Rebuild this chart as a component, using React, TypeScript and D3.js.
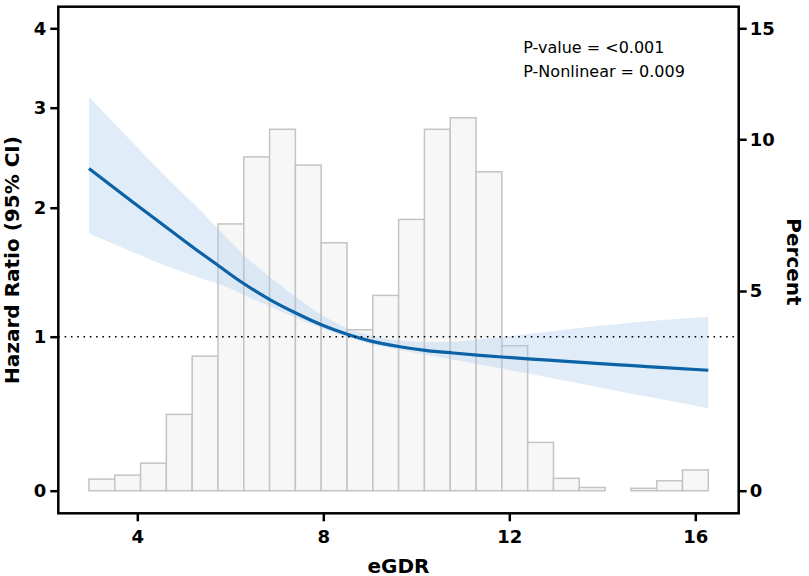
import React, { useEffect, useRef } from "react";
import * as d3 from "d3";

// spline curve (eGDR -> hazard ratio with 95% CI)
const egdr = [2.96, 3.9, 4.63, 5.35, 5.74, 6.27, 6.85, 7.43, 7.97, 8.53, 9.07, 9.65, 10.23, 10.79, 11.37, 11.84, 12.4, 13.23, 13.95, 14.66, 15.24, 16.28];
const hr = [2.392, 2.057, 1.847, 1.653, 1.552, 1.416, 1.288, 1.18, 1.091, 1.017, 0.968, 0.935, 0.91, 0.894, 0.879, 0.868, 0.856, 0.84, 0.825, 0.812, 0.801, 0.782];
const hrUpper = [3.139, 2.652, 2.302, 1.982, 1.835, 1.641, 1.463, 1.304, 1.168, 1.064, 1.005, 0.975, 0.966, 0.968, 0.982, 0.998, 1.021, 1.056, 1.084, 1.11, 1.128, 1.155];
const hrLower = [1.8, 1.657, 1.548, 1.455, 1.412, 1.327, 1.234, 1.143, 1.065, 0.995, 0.949, 0.914, 0.881, 0.852, 0.819, 0.793, 0.761, 0.712, 0.67, 0.628, 0.595, 0.535];

// histogram of eGDR distribution (percent per bin)
const binMin = 2.96;
const binMax = 16.28;
const percent = [0.29, 0.39, 0.69, 1.91, 3.37, 7.21, 9.42, 10.45, 9.15, 6.59, 4.03, 4.89, 7.36, 10.45, 10.97, 8.93, 3.63, 1.21, 0.31, 0.08, 0, 0.06, 0.25, 0.52];

const egdrTicks = [4, 8, 12, 16];
const hrTicks = [0, 1, 2, 3, 4];
const percentTicks = [0, 5, 10, 15];

const annotations = ["P-value = <0.001", "P-Nonlinear = 0.009"];

const width = 809;
const height = 576;
const frame = { left: 58.3, right: 738.7, top: 6.7, bottom: 513.3 };
const font = "DejaVu Sans, Verdana, sans-serif";

function App() {
  const svgRef = useRef<SVGSVGElement>(null);

  useEffect(() => {
    if (!svgRef.current) return;
    const svg = d3.select(svgRef.current);
    svg.selectAll("*").remove();

    const x = d3.scaleLinear().domain([4, 16]).range([137.3, 695.3]);
    // both y axes in the figure are unevenly spaced, so map them tick by tick
    const yHR = d3.scaleLinear().domain(hrTicks).range([490.7, 336.7, 207.7, 107.7, 28.3]);
    const yPct = d3.scaleLinear().domain(percentTicks).range([490.7, 291, 139.3, 28.3]);

    // histogram bars
    const binW = (binMax - binMin) / percent.length;
    const bins = percent.map((p, i) => ({ x0: binMin + i * binW, x1: binMin + (i + 1) * binW, p }));
    svg
      .append("g")
      .selectAll("rect")
      .data(bins.filter((b) => b.p > 0))
      .enter()
      .append("rect")
      .attr("x", (d) => x(d.x0))
      .attr("y", (d) => yPct(d.p))
      .attr("width", (d) => x(d.x1) - x(d.x0))
      .attr("height", (d) => yPct(0) - yPct(d.p))
      .attr("fill", "#f8f7f8")
      .attr("stroke", "#c4c4c4")
      .attr("stroke-width", 1.5);

    const pts = egdr.map((e, i) => ({ e, hr: hr[i], lo: hrLower[i], hi: hrUpper[i] }));

    // CI band
    const area = d3
      .area<(typeof pts)[number]>()
      .x((d) => x(d.e))
      .y0((d) => yHR(d.lo))
      .y1((d) => yHR(d.hi))
      .curve(d3.curveMonotoneX);
    svg.append("path").datum(pts).attr("d", area).attr("fill", "#a6c8e8").attr("fill-opacity", 0.35);

    // HR curve
    const line = d3
      .line<(typeof pts)[number]>()
      .x((d) => x(d.e))
      .y((d) => yHR(d.hr))
      .curve(d3.curveMonotoneX);
    svg
      .append("path")
      .datum(pts)
      .attr("d", line)
      .attr("fill", "none")
      .attr("stroke", "#0b62a6")
      .attr("stroke-width", 3.2);

    // reference line HR = 1
    svg
      .append("line")
      .attr("x1", frame.left)
      .attr("x2", frame.right)
      .attr("y1", yHR(1))
      .attr("y2", yHR(1))
      .attr("stroke", "#000")
      .attr("stroke-width", 1.6)
      .attr("stroke-dasharray", "1.6 4.7");

    // axes
    const styleAxis = (g: d3.Selection<SVGGElement, unknown, null, undefined>) => {
      g.select(".domain").remove();
      g.selectAll(".tick line").attr("stroke", "#000").attr("stroke-width", 2.5);
      g.selectAll(".tick text")
        .attr("fill", "#000")
        .style("font-family", font)
        .style("font-size", "18px")
        .style("font-weight", "bold");
    };

    svg
      .append("g")
      .attr("transform", `translate(${frame.left},0)`)
      .call(d3.axisLeft(yHR).tickValues(hrTicks).tickSize(8).tickPadding(4).tickFormat(d3.format("d")))
      .call(styleAxis);

    svg
      .append("g")
      .attr("transform", `translate(${frame.right},0)`)
      .call(d3.axisRight(yPct).tickValues(percentTicks).tickSize(8).tickPadding(3).tickFormat(d3.format("d")))
      .call(styleAxis);

    svg
      .append("g")
      .attr("transform", `translate(0,${frame.bottom})`)
      .call(d3.axisBottom(x).tickValues(egdrTicks).tickSize(8).tickPadding(9).tickFormat(d3.format("d")))
      .call(styleAxis);

    // frame
    svg
      .append("rect")
      .attr("x", frame.left)
      .attr("y", frame.top)
      .attr("width", frame.right - frame.left)
      .attr("height", frame.bottom - frame.top)
      .attr("fill", "none")
      .attr("stroke", "#000")
      .attr("stroke-width", 2.5);

    // axis titles
    const title = (txt: string, tx: number, ty: number, rot: number) =>
      svg
        .append("text")
        .attr("transform", `translate(${tx},${ty}) rotate(${rot})`)
        .attr("text-anchor", "middle")
        .style("font-family", font)
        .style("font-size", "20px")
        .style("font-weight", "bold")
        .text(txt);

    title("Hazard Ratio (95% CI)", 18.5, 260, -90);
    title("Percent", 786.5, 262, 90);
    title("eGDR", (frame.left + frame.right) / 2, 572.5, 0);

    // p-values
    svg
      .append("g")
      .selectAll("text")
      .data(annotations)
      .enter()
      .append("text")
      .attr("x", 523.3)
      .attr("y", (d, i) => 53.3 + i * 23.4)
      .style("font-family", font)
      .style("font-size", "16px")
      .text((d) => d);
  }, []);

  return (
    <svg
      ref={svgRef}
      width={width}
      height={height}
      style={{ position: "absolute", left: 0, top: 0, background: "#fff" }}
    ></svg>
  );
}

export default App;
